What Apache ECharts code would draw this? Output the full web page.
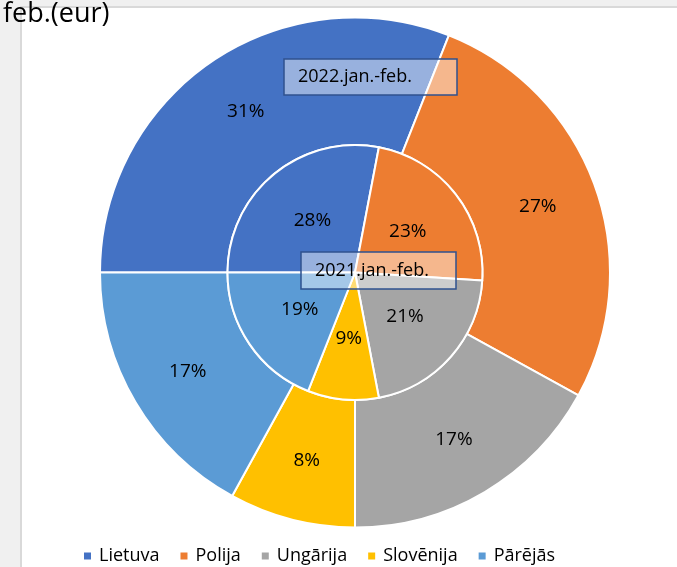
<!DOCTYPE html>
<html><head><meta charset="utf-8">
<script src="https://cdn.jsdelivr.net/npm/echarts@6/dist/echarts.min.js"></script>
<style>
html,body{margin:0;padding:0;background:#f0f0f0;width:677px;height:567px;overflow:hidden;}
#bg{position:absolute;left:20px;top:6px;width:657px;height:561px;background:#fff;border-left:2px solid #d9d9d9;border-top:2px solid #d9d9d9;}
#c{position:absolute;left:0;top:0;width:677px;height:567px;}
</style></head>
<body><div id="bg"></div><div id="c"></div>
<script>
const categories = ['Lietuva','Polija','Ungārija','Slovēnija','Pārējās'];
const values2022 = [31,27,17,8,17];
const values2021 = [28,23,21,9,19];
const seriesNames = ['2022.jan.-feb.','2021.jan.-feb.'];
const titleText = 'feb.(eur)';
const colors = ['#4472C4','#ED7D31','#A5A5A5','#FFC000','#5B9BD5'];
const FONT = 'Open Sans';

const chart = echarts.init(document.getElementById('c'), null, {renderer:'canvas'});
function mk(vals){ return categories.map((n,i)=>({name:n,value:vals[i]})); }
const lbl = {show:true,position:'inside',formatter:'{d}%',color:'#000',fontSize:19,fontFamily:FONT};
function box(text,x,y,w,h,tx){
  return [
    {type:'rect',z:100,shape:{x:x,y:y,width:w,height:h},style:{fill:'rgba(255,255,255,0.45)',stroke:'#2F528F',lineWidth:1.5}},
    {type:'text',z:101,x:x+tx,y:y+h/2,style:{text:text,fill:'#000',fontSize:18,fontFamily:FONT,verticalAlign:'middle',align:'left'}}
  ];
}
chart.setOption({
  color:colors,
  animation:false,
  title:{text:titleText,left:-2,top:-4,textStyle:{fontFamily:FONT,fontSize:27,fontWeight:'normal',color:'#000'}},
  legend:{data:categories,left:77,top:542,itemWidth:9,itemHeight:9,itemGap:19,icon:'rect',
    textStyle:{fontFamily:FONT,fontSize:18,color:'#000',padding:[0,0,0,2]}},
  series:[
    {name:seriesNames[0],type:'pie',center:[355,272.5],radius:[127.5,255],startAngle:180,clockwise:true,
     itemStyle:{borderColor:'#fff',borderWidth:2},label:lbl,labelLine:{show:false},data:mk(values2022),emphasis:{disabled:true}},
    {name:seriesNames[1],type:'pie',center:[355,272.5],radius:[0,127.5],startAngle:180,clockwise:true,
     itemStyle:{borderColor:'#fff',borderWidth:2},label:lbl,labelLine:{show:false},data:mk(values2021),emphasis:{disabled:true}}
  ],
  graphic:{elements:[].concat(box(seriesNames[0],284,59,173,36,14), box(seriesNames[1],301,252,155,37,14))}
});
</script></body></html>
